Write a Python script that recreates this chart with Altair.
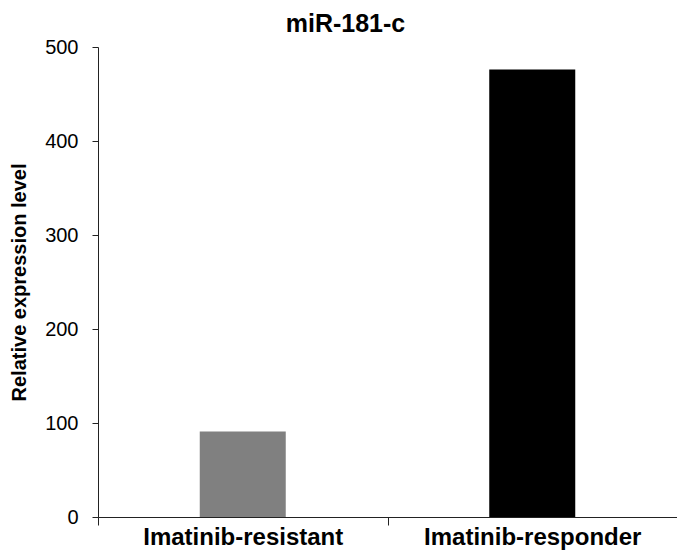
import altair as alt
import pandas as pd

groups = ["Imatinib-resistant", "Imatinib-responder"]
values = [91, 476]
colors = ["#808080", "#000000"]

df = pd.DataFrame({"group": groups, "value": values})

FONT = "Liberation Sans"

chart = alt.Chart(df).mark_bar(size=86).encode(
    x=alt.X("group:N", sort=groups,
            scale=alt.Scale(paddingInner=0, paddingOuter=0),
            axis=alt.Axis(title=None, labelAngle=0, labelFont=FONT, labelFontSize=24,
                          labelFontWeight="bold", labelColor="black", labelPadding=0,
                          labelLimit=0,
                          tickSize=8, tickBand="extent", tickColor="#222",
                          domainColor="#222", grid=False)),
    y=alt.Y("value:Q", scale=alt.Scale(domain=[0, 500], nice=False),
            axis=alt.Axis(title="Relative expression level", values=[0, 100, 200, 300, 400, 500],
                          titleFont=FONT, titleFontSize=20, titleFontWeight="bold",
                          titleColor="black", titlePadding=15,
                          labelFont=FONT, labelFontSize=20, labelColor="black",
                          labelPadding=14, tickSize=6, tickColor="#222",
                          domainColor="#222", grid=False)),
    color=alt.Color("group:N", scale=alt.Scale(domain=groups, range=colors), legend=None),
).properties(
    width=579, height=470,
    autosize=alt.AutoSizeParams(type="none"),
    padding={"left": 90, "top": 39, "right": 0, "bottom": 36},
    title=alt.TitleParams("miR-181-c", font=FONT, fontSize=25, fontWeight="bold",
                          color="black", anchor="middle", dx=-42, offset=0),
).configure_view(stroke=None)

chart.save("out.html", embed_options={"renderer": "svg", "actions": False})
